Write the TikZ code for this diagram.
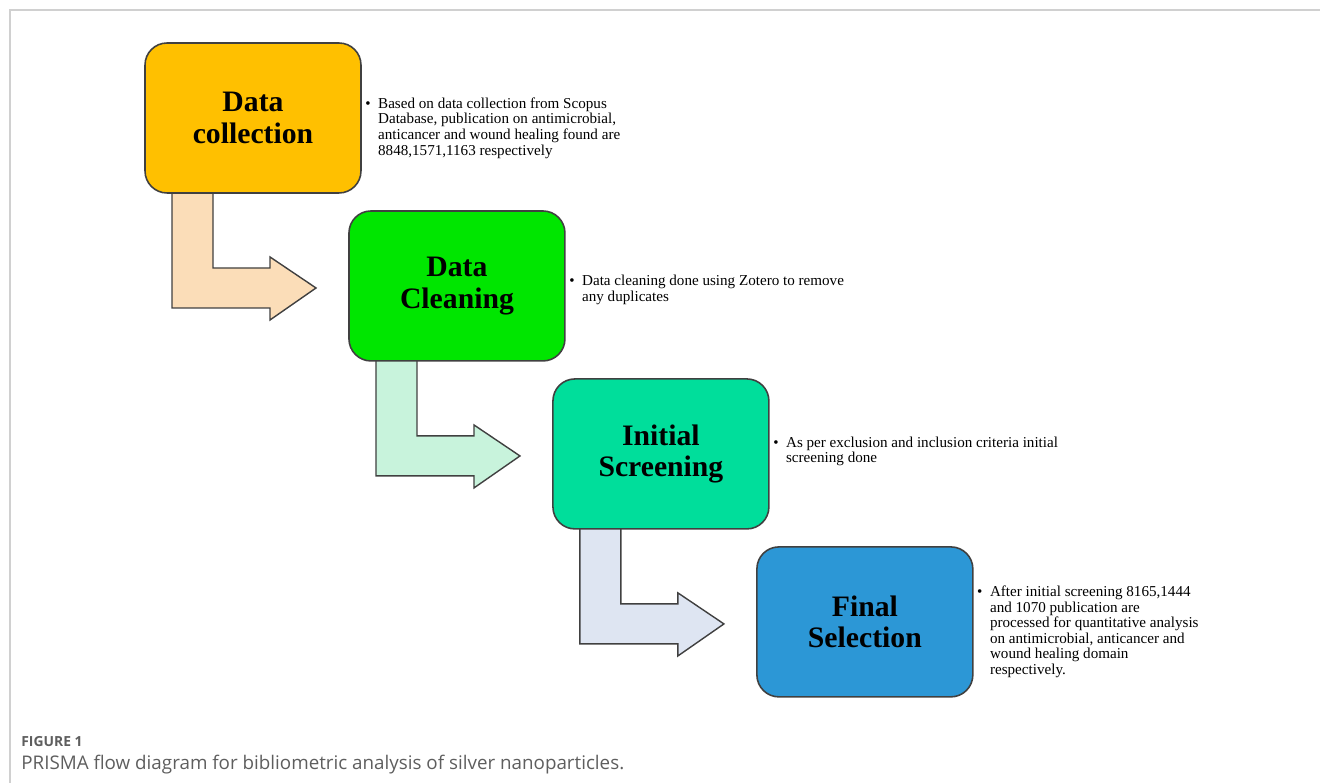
\documentclass[tikz,border=0pt]{standalone}
\usepackage{fontspec}
\setmainfont{Liberation Serif}
\newfontfamily\capfont{Open Sans}
\usetikzlibrary{positioning, backgrounds, calc}
\definecolor{stageA}{HTML}{FFC000}
\definecolor{stageB}{HTML}{00E600}
\definecolor{stageC}{HTML}{00DE9B}
\definecolor{stageD}{HTML}{2C97D6}
\definecolor{bendA}{HTML}{FBDDB8}
\definecolor{bendB}{HTML}{C8F3DC}
\definecolor{bendC}{HTML}{DEE5F2}
\definecolor{rim}{HTML}{404040}
\definecolor{frameline}{HTML}{D0D0D0}
\definecolor{capgrey}{HTML}{5E5E5E}
\newcommand{\notetext}[1]{\textbullet\hspace{0.5em}\begin{tabular}[t]{@{}l@{}}#1\end{tabular}}

\begin{document}
\begin{tikzpicture}[x=0.02cm, y=-0.02cm,
    stage/.style={draw=rim, line width=0.9pt, rounded corners=0.44cm, minimum width=4.32cm, minimum height=3cm, inner sep=0pt, outer sep=0pt, align=center, font=\bfseries\fontsize{16.9}{17.9}\selectfont},
    note/.style={inner sep=0pt, font=\fontsize{8.6}{8.9}\selectfont},
    bendarrow/.style={draw=rim, line width=0.8pt, line join=miter}]
  \useasboundingbox (0,0) rectangle (1320,783);
  \draw[frameline, line width=0.6pt] (10,783) -- (10,10) -- (1320,10);

  % stages
  \node[stage, fill=stageA] (c1) at (253,118) {Data\\collection};
  \node[stage, fill=stageB, below right=0.36cm and -0.24cm of c1] (c2) {Data\\Cleaning};
  \node[stage, fill=stageC, below right=0.36cm and -0.24cm of c2] (c3) {Initial\\Screening};
  \node[stage, fill=stageD, below right=0.36cm and -0.24cm of c3] (c4) {Final\\Selection};

  % notes
  \node[note, right=0.08cm of c1.east, yshift=-0.21cm] (n1) {\notetext{Based on data collection from Scopus\\Database, publication on antimicrobial,\\anticancer and wound healing found are\\8848,1571,1163 respectively}};
  \node[note, right=0.08cm of c2.east, yshift=-0.09cm] (n2) {\notetext{Data cleaning done using Zotero to remove\\any duplicates}};
  \node[note, right=0.08cm of c3.east, yshift=0.04cm] (n3) {\notetext{As per exclusion and inclusion criteria initial\\screening done}};
  \node[note, right=0.08cm of c4.east, yshift=-0.21cm] (n4) {\notetext{After initial screening 8165,1444\\and 1070 publication are\\processed for quantitative analysis\\on antimicrobial, anticancer and\\wound healing domain\\respectively.}};

  % bent arrows
  \begin{scope}[on background layer]
  \draw[bendarrow, fill=bendA] ($(c1.south west)+(27,-5)$) -- ++(41,0) -- ++(0,80) -- ++(57,0) -- ++(0,-11) -- ++(46,31) -- ++(-46,32) -- ++(0,-12) -- ++(-98,0) -- cycle;
  \draw[bendarrow, fill=bendB] ($(c2.south west)+(27,-5)$) -- ++(41,0) -- ++(0,80) -- ++(57,0) -- ++(0,-11) -- ++(46,31) -- ++(-46,32) -- ++(0,-12) -- ++(-98,0) -- cycle;
  \draw[bendarrow, fill=bendC] ($(c3.south west)+(27,-5)$) -- ++(41,0) -- ++(0,80) -- ++(57,0) -- ++(0,-11) -- ++(46,31) -- ++(-46,32) -- ++(0,-12) -- ++(-98,0) -- cycle;
  \end{scope}

  % caption
  \node[anchor=base west, inner sep=0pt, text=capgrey, font=\capfont\bfseries\fontsize{7.9}{10}\selectfont] (fig) at (21,747) {FIGURE 1};
  \node[anchor=base west, inner sep=0pt, text=capgrey, font=\capfont\fontsize{10.7}{12}\selectfont] (cap) at (21,770) {PRISMA flow diagram for bibliometric analysis of silver nanoparticles.};
\end{tikzpicture}
\end{document}
